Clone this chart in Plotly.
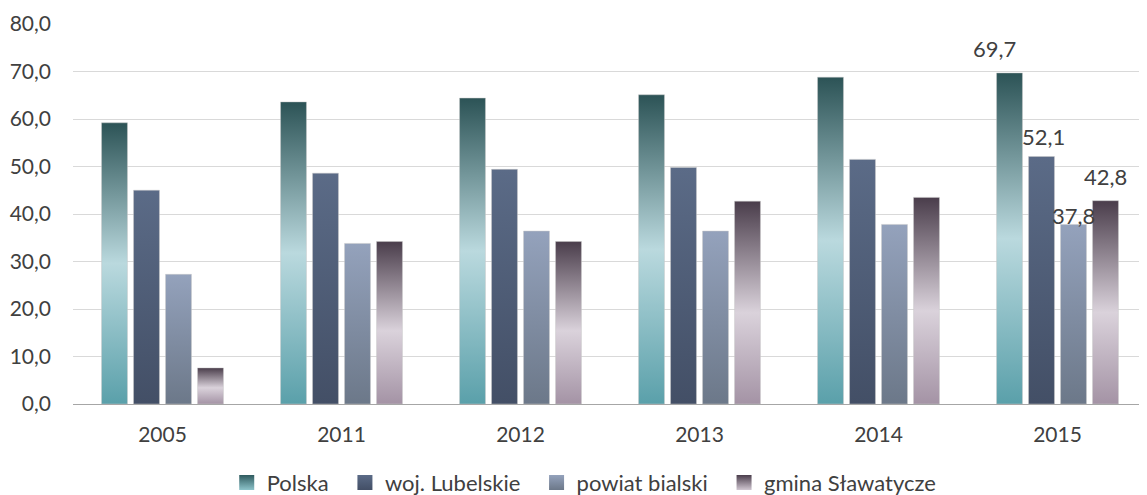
import plotly.graph_objects as go

years = ["2005", "2011", "2012", "2013", "2014", "2015"]
series_names = ["Polska", "woj. Lubelskie", "powiat bialski", "gmina Sławatycze"]
polska = [59.2, 63.6, 64.4, 65.1, 68.8, 69.7]
woj_lubelskie = [45.0, 48.6, 49.4, 49.8, 51.5, 52.1]
powiat_bialski = [27.3, 33.8, 36.4, 36.4, 37.8, 37.8]
gmina_slawatycze = [7.6, 34.2, 34.2, 42.7, 43.5, 42.8]
y_ticks = [0, 10, 20, 30, 40, 50, 60, 70, 80]

series_values = [polska, woj_lubelskie, powiat_bialski, gmina_slawatycze]

gradients = [
    [[0, "#5aa0aa"], [0.5, "#bad9de"], [1, "#2c5356"]],
    [[0, "#434f66"], [1, "#5b6b87"]],
    [[0, "#6c7889"], [1, "#94a2bc"]],
    [[0, "#a493a5"], [0.45, "#dad2db"], [1, "#4a3d4b"]],
]
legend_colors = [("#2f5a5e", "#8cc3ca"), ("#5b6b87", "#434f66"),
                 ("#94a2bc", "#6c7889"), ("#4a3d4b", "#d0c6d1")]

bargap = 0.285
slot = (1 - bargap) / len(series_names)
bar_w = slot * 0.81

fig = go.Figure()
for s, (name, vals) in enumerate(zip(series_names, series_values)):
    for i, v in enumerate(vals):
        xc = i + (s - (len(series_names) - 1) / 2) * slot
        x0, x1 = xc - bar_w / 2, xc + bar_w / 2
        fig.add_trace(go.Scatter(
            x=[x0, x0, x1, x1, x0], y=[0, v, v, 0, 0],
            mode="lines", line=dict(width=0.6, color="rgba(200,200,200,0.8)"),
            fill="toself",
            fillgradient=dict(type="vertical", colorscale=gradients[s], start=0, stop=v),
            name=name, legendgroup=name, showlegend=False,
            hoverinfo="skip",
        ))
    top_c, bot_c = legend_colors[s]
    fig.add_trace(go.Scatter(
        x=[None], y=[None], mode="markers",
        name=name + ("\u00a0\u00a0" if s < len(series_names) - 1 else ""),
        legendgroup=name,
        marker=dict(symbol="square", size=15, color=top_c,
                    gradient=dict(type="vertical", color=bot_c),
                    line=dict(width=0)),
        showlegend=True,
    ))

def fmt(v):
    return f"{v:.1f}".replace(".", ",")

label_shift = [(-15, 24), (2, 20), (0, 9), (0, 24)]
last = len(years) - 1
for s, vals in enumerate(series_values):
    xc = last + (s - (len(series_names) - 1) / 2) * slot
    fig.add_annotation(x=xc, y=vals[last], text=fmt(vals[last]), showarrow=False,
                       xshift=label_shift[s][0], yshift=label_shift[s][1],
                       font=dict(family="Lato", size=22, color="#404040"))

fig.update_layout(
    width=1139, height=487,
    margin=dict(l=65, r=0, t=16, b=91, autoexpand=False),
    plot_bgcolor="white", paper_bgcolor="white",
    separators=", ",
    font=dict(family="Lato", size=21, color="#404040"),
    showlegend=True,
    legend=dict(orientation="h", x=0.476, xanchor="center", y=-0.207,
                yanchor="middle", font=dict(size=22, color="#404040"),
                traceorder="normal", itemwidth=30),
)
fig.update_xaxes(range=[-0.5, len(years) - 0.5], tickvals=list(range(len(years))),
                 ticktext=years, showgrid=False, zeroline=False, showline=False,
                 ticks="", tickfont=dict(size=21), ticklabelstandoff=16)
fig.update_yaxes(range=[0, 80], tickvals=y_ticks, tickformat=".1f",
                 showgrid=True, gridcolor="#d9d9d9", gridwidth=1,
                 zeroline=True, zerolinecolor="#a6a6a6", zerolinewidth=1,
                 ticks="", ticklabelstandoff=21, tickfont=dict(size=21))

fig.write_html("out.html")
